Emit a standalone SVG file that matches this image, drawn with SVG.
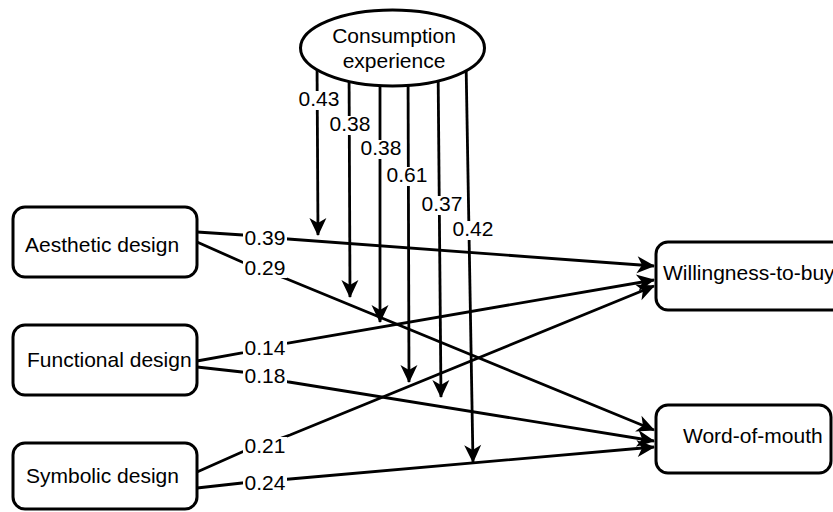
<svg xmlns="http://www.w3.org/2000/svg" width="833" height="512" viewBox="0 0 833 512">
<style>
.lbl{font-family:"Liberation Sans",Arial,sans-serif;font-size:21px;fill:#000}
.node{fill:#fff;stroke:#000;stroke-width:3}
.edge{fill:none;stroke:#000;stroke-width:2.8;marker-end:url(#ah)}
.bg{fill:#fff}
</style>
<defs>
<marker id="ah" viewBox="-19 -10 21 20" markerWidth="21" markerHeight="20" refX="0" refY="0" orient="auto" markerUnits="userSpaceOnUse">
<path d="M1,0 L-17,-8.5 L-12,0 L-17,8.5 Z" fill="#000"/>
</marker>
</defs>
<rect width="833" height="512" fill="#fff"/>
<g id="connectors">
<path class="edge" d="M317,60 L318,235"/>
<path class="edge" d="M349,60 L350,297"/>
<path class="edge" d="M380,60 L380,322"/>
<path class="edge" d="M408,60 L409,382"/>
<path class="edge" d="M438,60 L441,397"/>
<path class="edge" d="M466,60 L473,462"/>
<path class="edge" d="M197,232 L243,235 L288,239 L654,266"/>
<path class="edge" d="M197,242 L242,262 L287,279 L654,430"/>
<path class="edge" d="M197,361 L242,353 L288,343 L654,280"/>
<path class="edge" d="M197,367 L242,372 L289,382 L654,441"/>
<path class="edge" d="M197,472 L242,452 L290,435 L654,286"/>
<path class="edge" d="M197,488 L242,483 L290,479 L654,447"/>
<g id="labels">
<rect class="bg" x="298" y="91" width="42" height="19"/><text class="lbl" x="319" y="106" text-anchor="middle">0.43</text>
<rect class="bg" x="329" y="116" width="42" height="19"/><text class="lbl" x="350" y="131" text-anchor="middle">0.38</text>
<rect class="bg" x="360" y="140" width="42" height="19"/><text class="lbl" x="381" y="155" text-anchor="middle">0.38</text>
<rect class="bg" x="386" y="167" width="42" height="19"/><text class="lbl" x="407" y="182" text-anchor="middle">0.61</text>
<rect class="bg" x="421" y="196" width="42" height="19"/><text class="lbl" x="442" y="211" text-anchor="middle">0.37</text>
<rect class="bg" x="452" y="221" width="42" height="19"/><text class="lbl" x="473" y="236" text-anchor="middle">0.42</text>
<rect class="bg" x="243" y="229" width="44" height="19"/><text class="lbl" x="265" y="245" text-anchor="middle">0.39</text>
<rect class="bg" x="243" y="259" width="44" height="19"/><text class="lbl" x="265" y="275" text-anchor="middle">0.29</text>
<rect class="bg" x="243" y="339" width="44" height="19"/><text class="lbl" x="265" y="355" text-anchor="middle">0.14</text>
<rect class="bg" x="243" y="367" width="44" height="19"/><text class="lbl" x="265" y="383" text-anchor="middle">0.18</text>
<rect class="bg" x="243" y="437" width="44" height="19"/><text class="lbl" x="265" y="453" text-anchor="middle">0.21</text>
<rect class="bg" x="243" y="474" width="44" height="19"/><text class="lbl" x="265" y="490" text-anchor="middle">0.24</text>
</g>
</g>
<g id="consumption">
<ellipse class="node" cx="392.5" cy="48" rx="92" ry="38"/>
<text class="lbl" x="394" y="43" text-anchor="middle">Consumption</text>
<text class="lbl" x="394" y="68" text-anchor="middle">experience</text>
</g>
<g id="aesthetic">
<rect class="node" x="13" y="207" width="184" height="70" rx="12"/>
<text class="lbl" x="25" y="252">Aesthetic design</text>
</g>
<g id="functional">
<rect class="node" x="13" y="325" width="184" height="70" rx="12"/>
<text class="lbl" x="27" y="367">Functional design</text>
</g>
<g id="symbolic">
<rect class="node" x="13" y="443" width="184" height="66" rx="12"/>
<text class="lbl" x="26" y="483">Symbolic design</text>
</g>
<g id="willingness">
<rect class="node" x="656" y="242" width="200" height="68" rx="12"/>
<text class="lbl" x="663" y="280">Willingness-to-buy</text>
</g>
<g id="wom">
<rect class="node" x="656" y="405" width="175" height="68" rx="12"/>
<text class="lbl" x="683" y="443">Word-of-mouth</text>
</g>
</svg>
